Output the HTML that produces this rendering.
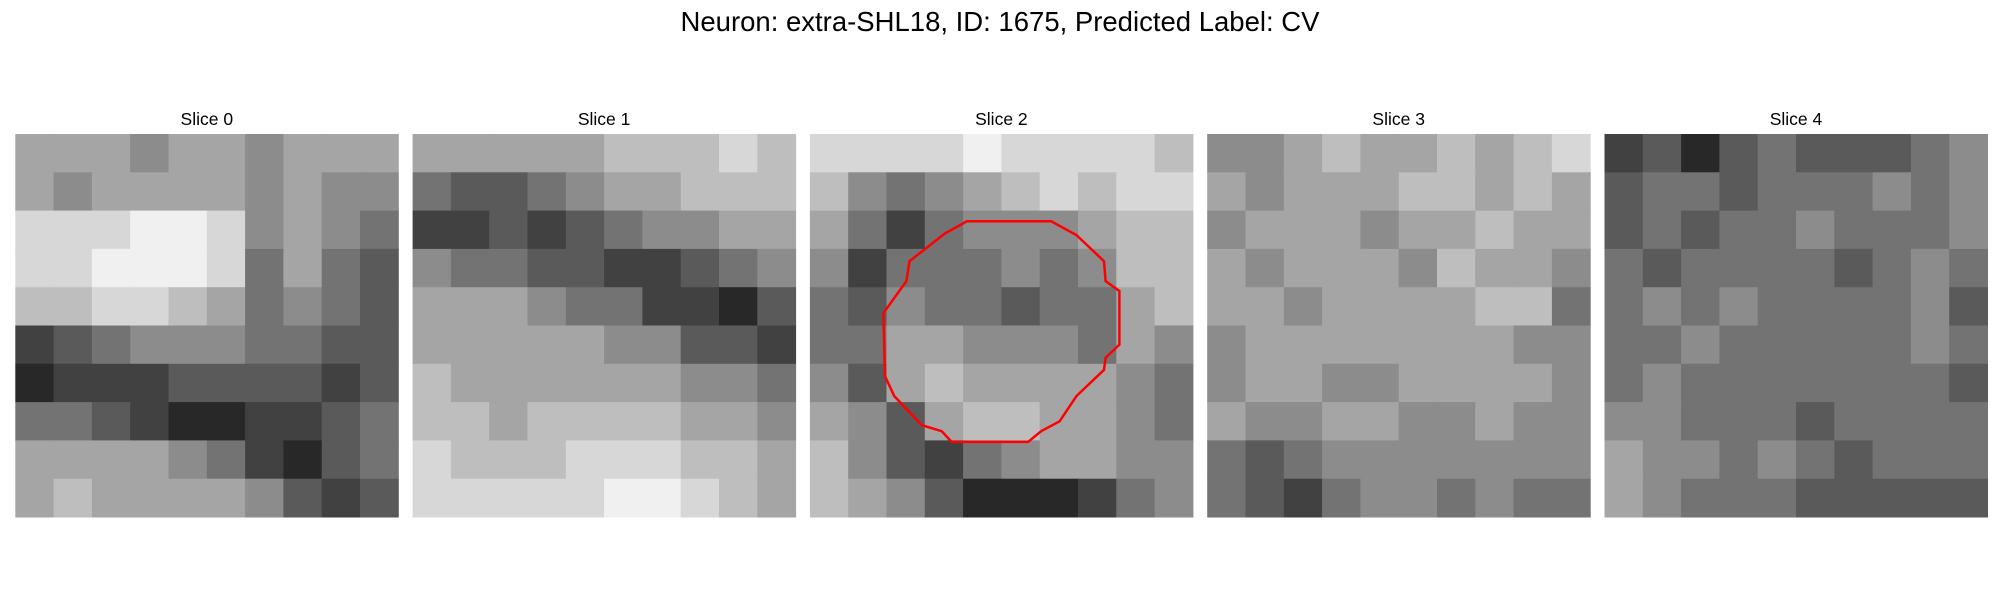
<!DOCTYPE html>
<html><head><meta charset="utf-8"><style>
html,body{margin:0;padding:0;background:#fff;width:2000px;height:600px;overflow:hidden}
svg{display:block}
text{font-family:"Liberation Sans","DejaVu Sans",sans-serif;fill:#000}
</style></head><body>
<svg id="fig" width="2000" height="600" viewBox="0 0 2000 600">
<text x="1000" y="31" font-size="27.5" text-anchor="middle">Neuron: extra-SHL18, ID: 1675, Predicted Label: CV</text>
<g id="panels"></g>
</svg>
<script>
const sliceTitles = ["Slice 0","Slice 1","Slice 2","Slice 3","Slice 4"];
const slice0 = [
[6,6,6,5,6,6,5,6,6,6],[6,5,6,6,6,6,5,6,5,5],[8,8,8,9,9,8,5,6,5,4],[8,8,9,9,9,8,4,6,4,3],[7,7,8,8,7,6,4,5,4,3],
[2,3,4,5,5,5,4,4,3,3],[1,2,2,2,3,3,3,3,2,3],[4,4,3,2,1,1,2,2,3,4],[6,6,6,6,5,4,2,1,3,4],[6,7,6,6,6,6,5,3,2,3]];
const slice1 = [
[6,6,6,6,6,7,7,7,8,7],[4,3,3,4,5,6,6,7,7,7],[2,2,3,2,3,4,5,5,6,6],[5,4,4,3,3,2,2,3,4,5],[6,6,6,5,4,4,2,2,1,3],
[6,6,6,6,6,5,5,3,3,2],[7,6,6,6,6,6,6,5,5,4],[7,7,6,7,7,7,7,6,6,5],[8,7,7,7,8,8,8,7,7,6],[8,8,8,8,8,9,9,8,7,6]];
const slice2 = [
[8,8,8,8,9,8,8,8,8,7],[7,5,4,5,6,7,8,7,8,8],[6,4,2,4,5,5,5,6,7,7],[5,2,4,4,4,5,4,5,7,7],[4,3,5,4,4,3,4,4,6,7],
[4,4,6,6,5,5,5,4,6,5],[5,3,6,7,6,6,6,6,5,4],[6,5,3,6,7,7,6,6,5,4],[7,5,3,2,4,5,6,6,5,5],[7,6,5,3,1,1,1,2,4,5]];
const slice3 = [
[5,5,6,7,6,6,7,6,7,8],[6,5,6,6,6,7,7,6,7,6],[5,6,6,6,5,6,6,7,6,6],[6,5,6,6,6,5,7,6,6,5],[6,6,5,6,6,6,6,7,7,4],
[5,6,6,6,6,6,6,6,5,5],[5,6,6,5,5,6,6,6,6,5],[6,5,5,6,6,5,5,6,5,5],[4,3,4,5,5,5,5,5,5,5],[4,3,2,4,5,5,4,5,4,4]];
const slice4 = [
[2,3,1,3,4,3,3,3,4,5],[3,4,4,3,4,4,4,5,4,5],[3,4,3,4,4,5,4,4,4,5],[4,3,4,4,4,4,3,4,5,4],[4,5,4,5,4,4,4,4,5,3],
[4,4,5,4,4,4,4,4,5,4],[4,5,4,4,4,4,4,4,4,3],[5,5,4,4,4,3,4,4,4,4],[6,5,5,4,5,4,3,4,4,4],[6,5,4,4,4,3,3,3,3,3]];
const slices = [slice0,slice1,slice2,slice3,slice4];
// contour on slice 2, in image-pixel units (0..25)
const contourX = [10.25,15.75,17.4,19.2,19.3,20.2,20.2,19.3,19.2,17.4,16.3,15.1,14.25,9.25,8.6,7.3,5.5,4.9,4.8,6.3,6.5,8.8];
const contourY = [5.7,5.7,6.6,8.3,9.6,10.25,13.75,14.6,15.4,17.1,18.75,19.4,20.1,20.1,19.4,19.0,17.1,15.8,11.7,9.6,8.3,6.5];

const NS="http://www.w3.org/2000/svg";
const g=document.getElementById('panels');
const panelX0=15.3, panelStep=397.3, panelY=134, panelSize=383, imgPx=25;
function sx(i,v){return panelX0+i*panelStep+v/imgPx*panelSize;}
function sy(v){return panelY+v/imgPx*panelSize;}
function gray(v){const c=Math.round(15+v/9*225);return `rgb(${c},${c},${c})`;}
slices.forEach((grid,i)=>{
  const pg=document.createElementNS(NS,'g');
  
  
  const n=grid.length, cell=panelSize/n;
  grid.forEach((row,r)=>row.forEach((v,c)=>{
    const rc=document.createElementNS(NS,'rect');
    rc.setAttribute('x',panelX0+i*panelStep+c*cell);
    rc.setAttribute('y',panelY+r*cell);
    rc.setAttribute('width',cell+0.5);
    rc.setAttribute('height',cell+0.5);
    rc.setAttribute('fill',gray(v));
    
    
    pg.appendChild(rc);
  }));
  const t=document.createElementNS(NS,'text');
  t.setAttribute('x',panelX0+i*panelStep+panelSize/2);
  t.setAttribute('y',125);
  t.setAttribute('font-size','17.5');
  t.setAttribute('text-anchor','middle');
  t.textContent=sliceTitles[i];
  
  
  pg.appendChild(t);
  g.appendChild(pg);
});
const pts=contourX.map((x,k)=>sx(2,x).toFixed(1)+','+sy(contourY[k]).toFixed(1)).join(' ');
const poly=document.createElementNS(NS,'polygon');
poly.setAttribute('points',pts);
poly.setAttribute('fill','none');
poly.setAttribute('stroke','#ff0000');
poly.setAttribute('stroke-width','2.5');


g.appendChild(poly);
</script>
</body></html>
